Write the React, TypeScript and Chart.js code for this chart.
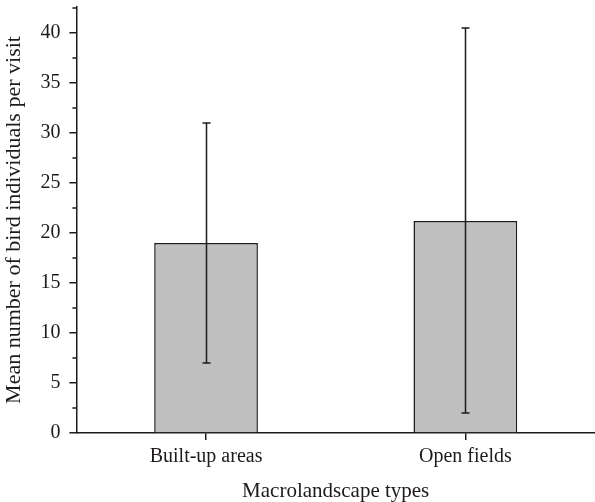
import React, { useEffect, useRef } from "react";
import { Chart, registerables } from "chart.js";

Chart.register(...registerables);

const categories: string[] = ["Built-up areas", "Open fields"];
const means: number[] = [19.0, 21.2];
const errorUpper: number[] = [31.0, 40.5];
const errorLower: number[] = [7.0, 2.0];
const yMin = 0;
const yMax = 42.6;
const yMajorStep = 5;
const yMinorStep = 2.5;
const xTitle = "Macrolandscape types";
const yTitle = "Mean number of bird individuals per visit";

const INK = "#1e1a1b";

const errorBarPlugin = {
  id: "errorBars",
  afterDatasetsDraw(chart: any) {
    const { ctx } = chart;
    const x = chart.scales.x;
    const y = chart.scales.y;
    ctx.save();
    ctx.strokeStyle = INK;
    ctx.lineWidth = 1.5;
    categories.forEach((_c, i) => {
      const px = Math.round(x.getPixelForValue(i)) + 0.5;
      const top = y.getPixelForValue(errorUpper[i]);
      const bot = y.getPixelForValue(errorLower[i]);
      ctx.beginPath();
      ctx.moveTo(px, top);
      ctx.lineTo(px, bot);
      ctx.moveTo(px - 4, top);
      ctx.lineTo(px + 4, top);
      ctx.moveTo(px - 4, bot);
      ctx.lineTo(px + 4, bot);
      ctx.stroke();
    });
    ctx.restore();
  },
};

const minorTickPlugin = {
  id: "minorTicks",
  afterDraw(chart: any) {
    const { ctx } = chart;
    const y = chart.scales.y;
    const left = chart.chartArea.left;
    ctx.save();
    ctx.strokeStyle = INK;
    ctx.lineWidth = 1.5;
    for (let v = yMin + yMinorStep; v <= yMax + 1e-9; v += yMajorStep) {
      const py = y.getPixelForValue(v);
      ctx.beginPath();
      ctx.moveTo(left - 4, py);
      ctx.lineTo(left, py);
      ctx.stroke();
    }
    ctx.restore();
  },
};

export default function App() {
  const ref = useRef<HTMLCanvasElement | null>(null);

  useEffect(() => {
    if (!ref.current) return;
    const chart = new Chart(ref.current, {
      type: "bar",
      data: {
        labels: categories,
        datasets: [
          {
            data: means,
            backgroundColor: "#c0c0c0",
            borderColor: INK,
            borderWidth: 1.5,
            barPercentage: 1,
            categoryPercentage: 0.4,
          },
        ],
      },
      options: {
        responsive: false,
        animation: false,
        layout: { padding: { top: 7, right: 0, bottom: 0, left: 1 } },
        plugins: {
          legend: { display: false },
          tooltip: { enabled: false },
        },
        scales: {
          x: {
            offset: true,
            grid: {
              display: true,
              offset: false,
              drawOnChartArea: false,
              drawTicks: true,
              tickLength: 7,
              color: INK,
              lineWidth: 1.5,
            },
            border: { display: true, color: INK, width: 1.5 },
            ticks: {
              color: INK,
              font: { family: "'Liberation Serif', serif", size: 20 },
              maxRotation: 0,
              padding: 5,
            },
            title: {
              display: true,
              text: xTitle,
              color: INK,
              font: { family: "'Liberation Serif', serif", size: 21, lineHeight: 1.0 },
              padding: { top: 7, bottom: 0 },
            },
          },
          y: {
            min: yMin,
            max: yMax,
            afterFit(scale: any) {
              scale.paddingTop = 0;
            },
            grid: {
              display: true,
              drawOnChartArea: false,
              drawTicks: true,
              tickLength: 7,
              color: INK,
              lineWidth: 1.5,
            },
            border: { display: true, color: INK, width: 1.5 },
            ticks: {
              stepSize: yMajorStep,
              includeBounds: false,
              color: INK,
              font: { family: "'Liberation Serif', serif", size: 20 },
              padding: 9,
            },
            title: {
              display: true,
              text: yTitle,
              color: INK,
              font: { family: "'Liberation Serif', serif", size: 22 },
              padding: { top: 0, bottom: 4 },
            },
          },
        },
      },
      plugins: [errorBarPlugin, minorTickPlugin],
    });
    return () => chart.destroy();
  }, []);

  return (
    <div style={{ position: "fixed", left: 0, top: 0, width: 595, height: 502, background: "#fff" }}>
      <canvas ref={ref} width={595} height={502} />
    </div>
  );
}
